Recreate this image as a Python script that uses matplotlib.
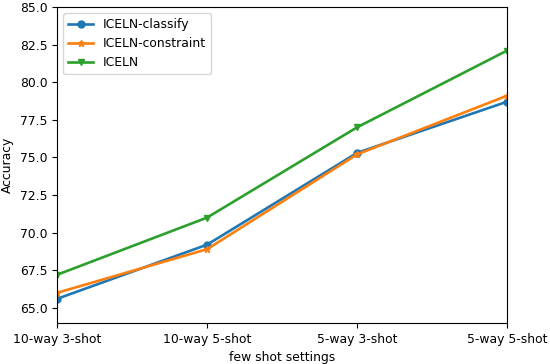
import matplotlib
matplotlib.use("Agg")
import matplotlib.pyplot as plt

settings = ["10-way 3-shot", "10-way 5-shot", "5-way 3-shot", "5-way 5-shot"]
classify = [65.6, 69.2, 75.3, 78.7]
constraint = [66.0, 68.9, 75.2, 79.1]
iceln = [67.2, 71.0, 77.0, 82.1]

plt.rcParams["font.size"] = 8.9

fig, ax = plt.subplots(figsize=(5.5, 3.64), dpi=100)
x = range(len(settings))
ax.plot(x, classify, marker="o", ms=5, lw=1.9, label="ICELN-classify")
ax.plot(x, constraint, marker="*", ms=5, lw=1.9, label="ICELN-constraint")
ax.plot(x, iceln, marker="v", ms=5, lw=1.9, label="ICELN")
ax.set_xticks(list(x))
ax.set_xticklabels(settings)
ax.set_xlim(0, 3)
ax.set_ylim(64.0, 85.0)
ax.set_yticks([65.0, 67.5, 70.0, 72.5, 75.0, 77.5, 80.0, 82.5, 85.0])
ax.set_xlabel("few shot settings")
ax.set_ylabel("Accuracy")
ax.legend(loc="upper left")
fig.subplots_adjust(left=0.104, right=0.922, top=0.981, bottom=0.113)
fig.savefig("out.png", dpi=100)
